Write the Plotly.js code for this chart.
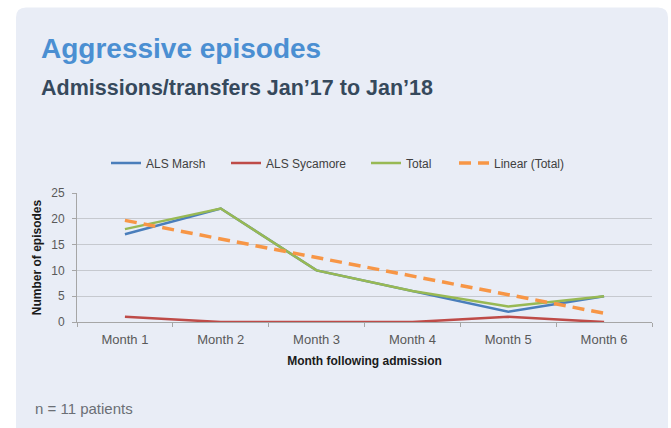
<!DOCTYPE html>
<html>
<head>
<meta charset="utf-8">
<script src="https://cdn.plot.ly/plotly-3.0.1.min.js"></script>
<style>
html,body{margin:0;padding:0;background:#ffffff;}
#chart{width:671px;height:428px;}
</style>
</head>
<body>
<div id="chart"></div>
<script>
// ---- data ----
var months = ["Month 1", "Month 2", "Month 3", "Month 4", "Month 5", "Month 6"];
var alsMarsh = [17, 22, 10, 6, 2, 5];
var alsSycamore = [1, 0, 0, 0, 1, 0];
var total = [18, 22, 10, 6, 3, 5];
var linearTotal = [19.7, 16.1, 12.5, 8.9, 5.3, 1.7];
var seriesNames = ["ALS Marsh", "ALS Sycamore", "Total", "Linear (Total)"];
var yTicks = [0, 5, 10, 15, 20, 25];

// ---- geometry helpers (pixel -> paper) ----
var W = 671, H = 428;
var L = 77, R = 652, T = 193, B = 322;
function px(x){ return (x - L) / (R - L); }
function py(y){ return (B - y) / (B - T); }

var tickFont = {family: "Liberation Sans, Arial, sans-serif", size: 12, color: "#595959"};

var traces = [
  {x: months, y: alsMarsh, name: seriesNames[0], type: "scatter", mode: "lines",
   line: {color: "#4a7ebb", width: 2.5}, legend: "legend"},
  {x: months, y: alsSycamore, name: seriesNames[1], type: "scatter", mode: "lines",
   line: {color: "#be4b48", width: 2.5}, legend: "legend2"},
  {x: months, y: total, name: seriesNames[2], type: "scatter", mode: "lines",
   line: {color: "#98b954", width: 2.5}, legend: "legend3"},
  {x: months, y: linearTotal, name: seriesNames[3], type: "scatter", mode: "lines",
   line: {color: "#f79646", width: 3.5, dash: "12px,7px"}, legend: "legend4"}
];

var r = 10;
var panelPath = "M" + px(16) + "," + py(440) +
  " L" + px(16) + "," + py(7.5 + r) +
  " Q" + px(16) + "," + py(7.5) + " " + px(16 + r) + "," + py(7.5) +
  " L" + px(668 - r) + "," + py(7.5) +
  " Q" + px(668) + "," + py(7.5) + " " + px(668) + "," + py(7.5 + r) +
  " L" + px(668) + "," + py(440) + " Z";

function legendAt(xpix){
  return {orientation: "h", x: px(xpix), xanchor: "left", y: py(163), yanchor: "middle",
          bgcolor: "rgba(0,0,0,0)", borderwidth: 0,
          font: {family: "Liberation Sans, Arial, sans-serif", size: 12, color: "#404040"}};
}

var layout = {
  width: W, height: H,
  margin: {l: L, r: W - R, t: T, b: H - B, pad: 0},
  paper_bgcolor: "#ffffff",
  plot_bgcolor: "rgba(0,0,0,0)",
  showlegend: true,
  legend: legendAt(106),
  legend2: legendAt(226),
  legend3: legendAt(366),
  legend4: legendAt(454),
  xaxis: {
    type: "category",
    range: [-0.5, 5.5],
    showgrid: false,
    showline: true, linecolor: "#a6a6a6", linewidth: 1,
    ticks: "outside", tickson: "boundaries", ticklen: 4, tickcolor: "#a6a6a6",
    tickfont: {family: "Liberation Sans, Arial, sans-serif", size: 13, color: "#595959"},
    ticklabelstandoff: 5,
    zeroline: false,
    title: {text: "Month following admission", standoff: 11,
            font: {family: "Liberation Sans, Arial, sans-serif", size: 12, color: "#1a1a1a", weight: "bold"}}
  },
  yaxis: {
    range: [0, 25],
    tickvals: yTicks,
    showgrid: true, gridcolor: "#c6c9cf", gridwidth: 1,
    showline: true, linecolor: "#a6a6a6", linewidth: 1,
    ticks: "outside", ticklen: 4, tickcolor: "#a6a6a6",
    tickfont: tickFont,
    ticklabelstandoff: 5,
    zeroline: false,
    title: {text: "Number of episodes", standoff: 7,
            font: {family: "Liberation Sans, Arial, sans-serif", size: 12, color: "#1a1a1a", weight: "bold"}}
  },
  shapes: [
    {type: "path", xref: "paper", yref: "paper", path: panelPath,
     fillcolor: "#e9edf6", line: {width: 0}, layer: "below"}
  ],
  annotations: [
    {xref: "paper", yref: "paper", x: px(39), y: py(49), xanchor: "left", yanchor: "middle",
     showarrow: false, text: "Aggressive episodes",
     font: {family: "Liberation Sans, Arial, sans-serif", size: 28, color: "#4b8fd2", weight: "bold"}},
    {xref: "paper", yref: "paper", x: px(39), y: py(88.5), xanchor: "left", yanchor: "middle",
     showarrow: false, text: "Admissions/transfers Jan\u201917 to Jan\u201918",
     font: {family: "Liberation Sans, Arial, sans-serif", size: 21.5, color: "#36495c", weight: "bold"}},
    {xref: "paper", yref: "paper", x: px(33), y: py(408), xanchor: "left", yanchor: "middle",
     showarrow: false, text: "n = 11 patients",
     font: {family: "Liberation Sans, Arial, sans-serif", size: 15, color: "#6b6f75"}}
  ]
};

Plotly.newPlot("chart", traces, layout, {displayModeBar: false, staticPlot: true});
</script>
</body>
</html>
